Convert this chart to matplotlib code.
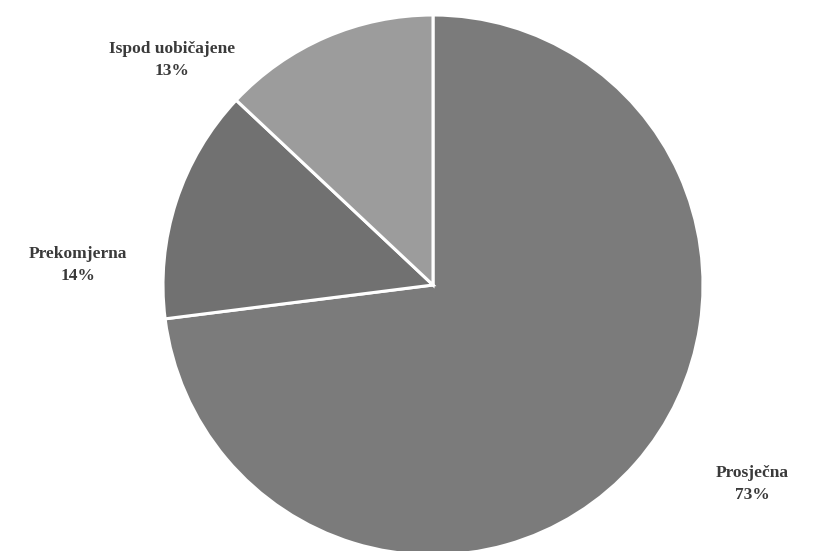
import matplotlib.pyplot as plt

labels = ["Prosječna", "Prekomjerna", "Ispod uobičajene"]
values = [73, 14, 13]
colors = ["#7b7b7b", "#717171", "#9c9c9c"]

# label centres in pixels (x, y from top)
label_px = [(752, 484), (78, 265), (172, 60)]

W, H = 815, 551
cx, cy, r = 433, 285, 270

fig = plt.figure(figsize=(W / 100, H / 100), dpi=100)
ax = fig.add_axes([0, 0, 1, 1])
ax.pie(values, colors=colors, startangle=90, counterclock=False,
       wedgeprops=dict(edgecolor="white", linewidth=2.2))
ax.set_xlim(-cx / r, (W - cx) / r)
ax.set_ylim(-(H - cy) / r, cy / r)
ax.set_aspect("auto")
ax.axis("off")

for lab, v, (px, py) in zip(labels, values, label_px):
    ax.text((px - cx) / r, (cy - py) / r, f"{lab}\n{v}%", ha="center", va="center",
            fontsize=12.5, fontweight="bold", family="Liberation Serif",
            color="#3a3a3a", linespacing=1.5)

fig.savefig("out.png", dpi=100)
